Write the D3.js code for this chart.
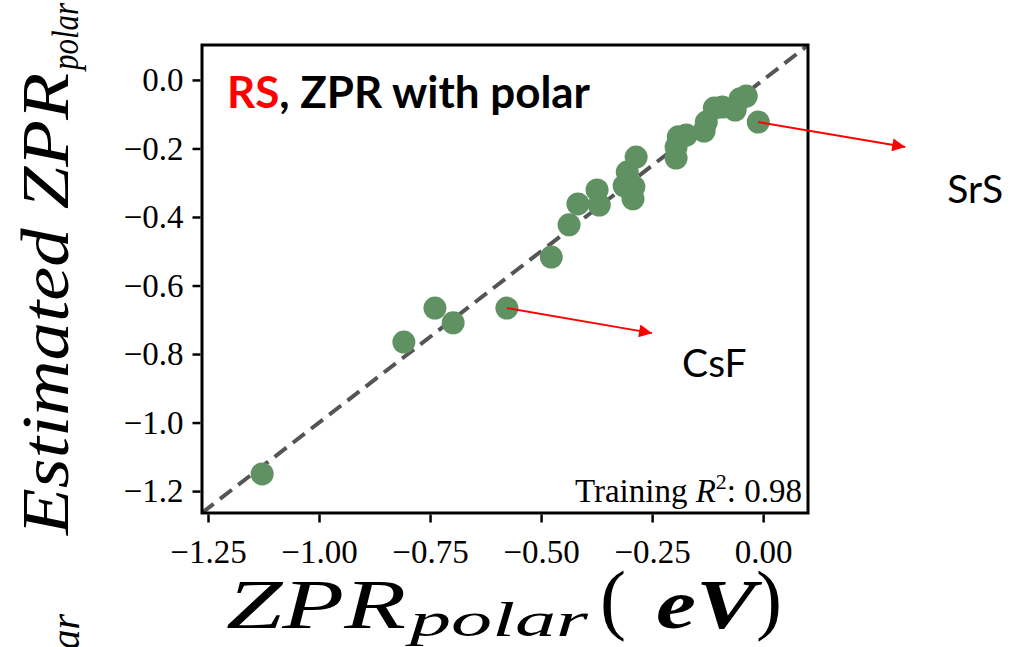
<!DOCTYPE html>
<html lang="en">
  <head>
    <meta charset="utf-8">
    <script src="https://d3js.org/d3.v7.min.js"></script>
    <title>ZPR polar parity plot</title>
    <style>
      body {
        margin: 0;
        background-color: #ffffff;
      }
      svg {
        display: block;
      }
      .tick text {
        font-family: "Liberation Serif", "DejaVu Serif", serif;
        font-size: 33px;
        fill: #000;
      }
      .tick line {
        stroke: #000;
        stroke-width: 2.5;
      }
      .note {
        font-family: Lato, "Open Sans", sans-serif;
        fill: #000;
      }
    </style>
  </head>
  <body>
    <div class="chartHolder"></div>
    <script>
      // values (eV)
      const zprPolar = [-1.128, -0.809, -0.739, -0.698, -0.577, -0.477, -0.437, -0.417, -0.374,
        -0.369, -0.313, -0.306, -0.286, -0.291, -0.293, -0.196, -0.196, -0.191, -0.173,
        -0.133, -0.128, -0.110, -0.092, -0.063, -0.052, -0.038, -0.011];
      const zprEstimated = [-1.150, -0.765, -0.666, -0.709, -0.666, -0.517, -0.423, -0.362, -0.321,
        -0.365, -0.309, -0.269, -0.225, -0.312, -0.347, -0.228, -0.196, -0.166, -0.161,
        -0.149, -0.123, -0.082, -0.079, -0.088, -0.055, -0.047, -0.123];
      const xTicks = [-1.25, -1.0, -0.75, -0.5, -0.25, 0.0];
      const yTicks = [0.0, -0.2, -0.4, -0.6, -0.8, -1.0, -1.2];
      const xDomain = [-1.2635, 0.101];
      const yDomain = [-1.264, 0.102];
      const annotLabels = ['CsF', 'SrS'];
      const annotPoint = [4, 26];
      const annotHeadX = [-0.25, 0.32];
      const annotHeadY = [-0.739, -0.196];
      const r2Text = '0.98';

      const svgSize = {'width': 1010, 'height': 647};
      const plot = {'left': 202, 'right': 808, 'top': 45, 'bottom': 513};
      const labelShift = [[30, 44], [42, 56]];
      const dotColor = '#5f9163';

      let svg = d3.select('.chartHolder')
        .append('svg')
        .attr('width', svgSize.width)
        .attr('height', svgSize.height);

      let xScale = d3.scaleLinear().domain(xDomain).range([plot.left, plot.right]);
      let yScale = d3.scaleLinear().domain(yDomain).range([plot.bottom, plot.top]);

      svg.append('defs').append('clipPath')
        .attr('id', 'plotClip')
        .append('rect')
          .attr('x', plot.left)
          .attr('y', plot.top)
          .attr('width', plot.right - plot.left)
          .attr('height', plot.bottom - plot.top);

      svg.append('defs').append('marker')
        .attr('id', 'arrowHead')
        .attr('viewBox', '0 0 10 10')
        .attr('refX', 10)
        .attr('refY', 5)
        .attr('markerUnits', 'userSpaceOnUse')
        .attr('markerWidth', 16)
        .attr('markerHeight', 13)
        .attr('orient', 'auto')
        .append('path')
          .attr('d', 'M0,0 L10,5 L0,10 z')
          .attr('fill', '#ff0000');

      // y = x reference line
      let lo = Math.min(xDomain[0], yDomain[0]);
      let hi = Math.max(xDomain[1], yDomain[1]);
      svg.append('line')
        .attr('clip-path', 'url(#plotClip)')
        .attr('x1', xScale(lo))
        .attr('y1', yScale(lo))
        .attr('x2', xScale(hi))
        .attr('y2', yScale(hi))
        .attr('stroke', '#555555')
        .attr('stroke-width', 4)
        .attr('stroke-dasharray', '15,8');

      svg.append('g')
        .attr('clip-path', 'url(#plotClip)')
        .selectAll('circle')
        .data(zprPolar)
        .enter()
        .append('circle')
          .attr('cx', (d) => xScale(d))
          .attr('cy', (d, i) => yScale(zprEstimated[i]))
          .attr('r', 11.5)
          .attr('fill', dotColor);

      // frame
      svg.append('rect')
        .attr('x', plot.left)
        .attr('y', plot.top)
        .attr('width', plot.right - plot.left)
        .attr('height', plot.bottom - plot.top)
        .attr('fill', 'none')
        .attr('stroke', '#000')
        .attr('stroke-width', 3);

      let xAxis = d3.axisBottom(xScale)
        .tickValues(xTicks)
        .tickFormat(d3.format('.2f'))
        .tickSizeInner(8)
        .tickSizeOuter(0)
        .tickPadding(17);
      let yAxis = d3.axisLeft(yScale)
        .tickValues(yTicks)
        .tickFormat(d3.format('.1f'))
        .tickSizeInner(8)
        .tickSizeOuter(0)
        .tickPadding(9);

      let gx = svg.append('g')
        .attr('transform', 'translate(0, ' + (plot.bottom + 1.5) + ')')
        .call(xAxis);
      let gy = svg.append('g')
        .attr('transform', 'translate(' + (plot.left - 1.5) + ', 0)')
        .call(yAxis);
      gx.select('.domain').remove();
      gy.select('.domain').remove();

      // title inside the axes
      let title = svg.append('text')
        .attr('class', 'note')
        .attr('x', 227)
        .attr('y', 108)
        .attr('font-size', 43)
        .attr('font-weight', 'bold')
        .attr('textLength', 363)
        .attr('lengthAdjust', 'spacingAndGlyphs');
      title.append('tspan').attr('fill', '#ff0000').text('RS');
      title.append('tspan').text(', ZPR with polar');

      // training score
      let r2 = svg.append('text')
        .attr('x', plot.right - 6)
        .attr('y', 502)
        .attr('text-anchor', 'end')
        .attr('font-family', '"Liberation Serif", serif')
        .attr('font-size', 33);
      r2.append('tspan').text('Training ');
      r2.append('tspan').attr('font-style', 'italic').text('R');
      r2.append('tspan').attr('font-size', 22).attr('dy', -13).text('2');
      r2.append('tspan').attr('dy', 13).text(': ' + r2Text);

      // annotations
      annotLabels.forEach((label, k) => {
        let i = annotPoint[k];
        let hx = xScale(annotHeadX[k]);
        let hy = yScale(annotHeadY[k]);
        svg.append('line')
          .attr('x1', xScale(zprPolar[i]))
          .attr('y1', yScale(zprEstimated[i]))
          .attr('x2', hx)
          .attr('y2', hy)
          .attr('stroke', '#ff0000')
          .attr('stroke-width', 2)
          .attr('marker-end', 'url(#arrowHead)');
        svg.append('text')
          .attr('class', 'note')
          .attr('x', hx + labelShift[k][0])
          .attr('y', hy + labelShift[k][1])
          .attr('font-size', 39)
          .text(label);
      });

      // x label: ZPR_polar (eV)
      let xl = svg.append('g').attr('font-family', '"Liberation Serif", serif');
      xl.append('text').attr('x', 226).attr('y', 628)
        .attr('font-size', 70).attr('font-style', 'italic')
        .attr('textLength', 180).attr('lengthAdjust', 'spacingAndGlyphs')
        .text('ZPR');
      xl.append('text').attr('x', 410).attr('y', 636)
        .attr('font-size', 48).attr('font-style', 'italic')
        .attr('textLength', 178).attr('lengthAdjust', 'spacingAndGlyphs')
        .text('polar');
      xl.append('text').attr('x', 600).attr('y', 625)
        .attr('font-size', 78).text('(');
      xl.append('text').attr('x', 656).attr('y', 628)
        .attr('font-size', 70).attr('font-style', 'italic').attr('font-weight', 'bold')
        .attr('textLength', 100).attr('lengthAdjust', 'spacingAndGlyphs')
        .text('eV');
      xl.append('text').attr('x', 756).attr('y', 625)
        .attr('font-size', 78).text(')');

      // y label: Estimated ZPR_polar
      let yl = svg.append('g')
        .attr('font-family', '"Liberation Serif", serif')
        .attr('font-style', 'italic')
        .attr('transform', 'translate(68, 535) rotate(-90)');
      yl.append('text').attr('x', 0).attr('y', 0)
        .attr('font-size', 68)
        .attr('textLength', 462).attr('lengthAdjust', 'spacingAndGlyphs')
        .text('Estimated ZPR');
      yl.append('text').attr('x', 465).attr('y', 10)
        .attr('font-size', 38)
        .attr('textLength', 67).attr('lengthAdjust', 'spacingAndGlyphs')
        .text('polar');

      // leftover label of the panel below
      svg.append('text')
        .attr('font-family', '"Liberation Serif", serif')
        .attr('font-style', 'italic')
        .attr('font-size', 40)
        .attr('text-anchor', 'end')
        .attr('transform', 'translate(79, 614) rotate(-90)')
        .text('polar');
    </script>
  </body>
</html>
